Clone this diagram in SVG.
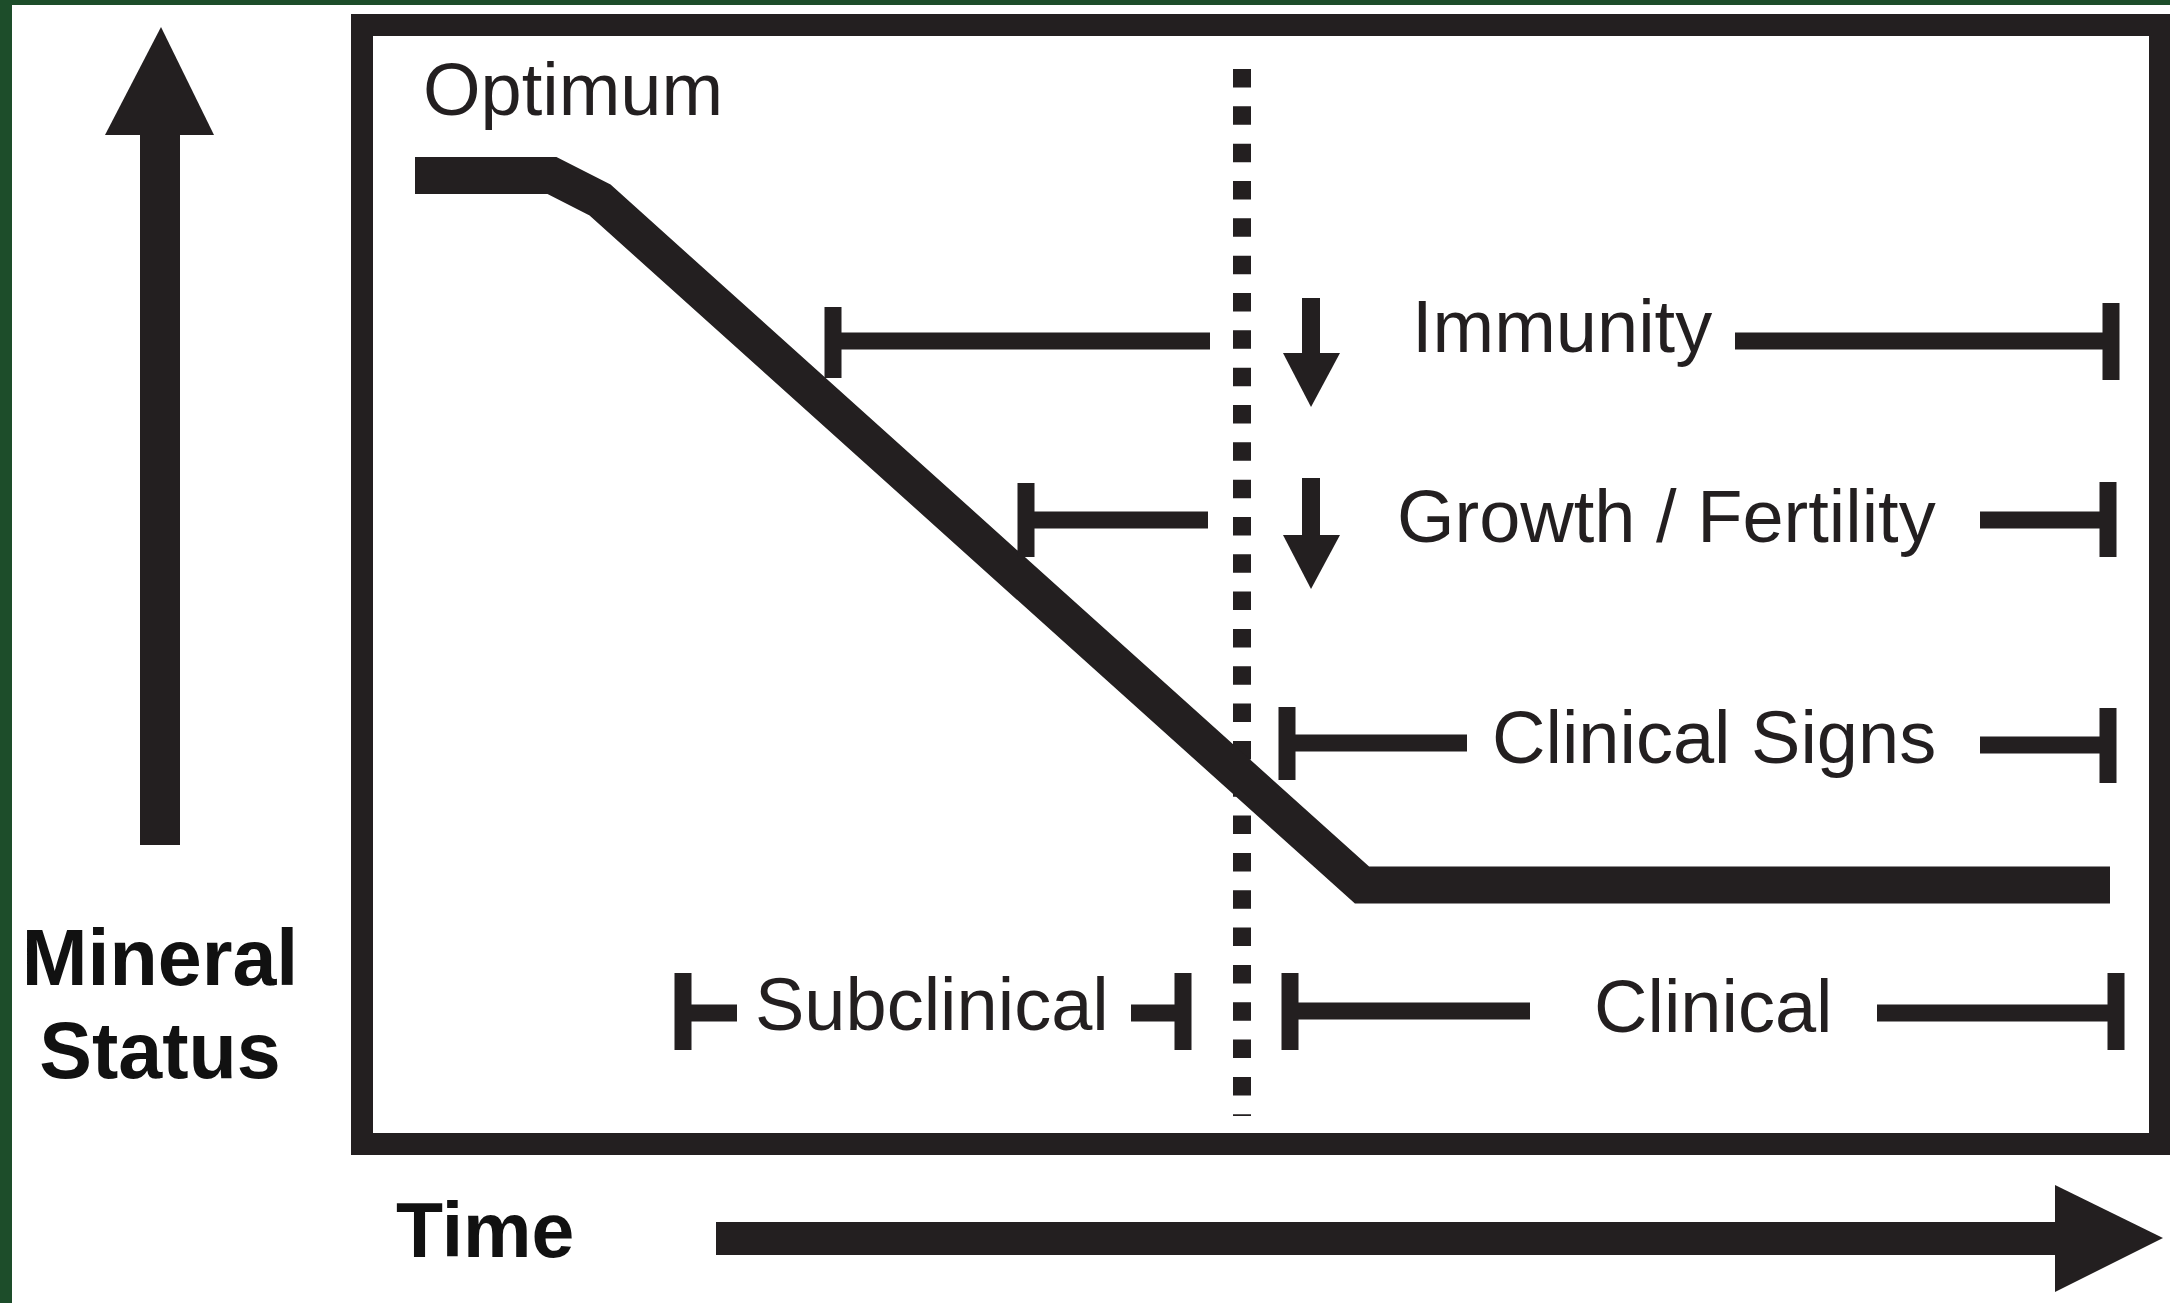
<svg xmlns="http://www.w3.org/2000/svg" width="2170" height="1303" viewBox="0 0 2170 1303">
<style>
.ln{stroke:#231f20;fill:none;stroke-linecap:butt}
.br{stroke:#231f20;stroke-width:17;fill:none}
.fill{fill:#231f20}
.lbl{font-family:"Liberation Sans",Arial,sans-serif;font-size:74px;fill:#231f20}
.axis{font-family:"Liberation Sans",Arial,sans-serif;font-size:79px;font-weight:bold;fill:#111}
</style>
<rect x="0" y="0" width="2170" height="1303" fill="#1d4d2a"/>
<rect x="12" y="5" width="2158" height="1298" fill="#ffffff"/>

<g id="y-axis">
  <rect x="140" y="130" width="40" height="715" class="fill"/>
  <polygon points="105,135 161,27 214,135" class="fill"/>
  <text class="axis" x="160" y="985" text-anchor="middle">Mineral</text>
  <text class="axis" x="160" y="1078" text-anchor="middle">Status</text>
</g>

<g id="x-axis">
  <rect x="716" y="1222" width="1345" height="33" class="fill"/>
  <polygon points="2055,1185 2163,1238 2055,1292" class="fill"/>
  <text class="axis" x="396" y="1257" style="font-size:77px">Time</text>
</g>

<g id="frame">
  <rect x="362" y="25" width="1798" height="1119" class="ln" stroke-width="22"/>
</g>

<g id="threshold">
  <line x1="1242" y1="69" x2="1242" y2="1116" class="ln" stroke-width="18" stroke-dasharray="18.5 18.83"/>
</g>

<g id="curve">
  <path d="M415,175.5 L552,175.5 L600,200 L1362,885 L2110,885" class="ln" stroke-width="37" stroke-linejoin="miter"/>
  <text class="lbl" x="423" y="115">Optimum</text>
</g>

<g id="connectors">
  <!-- Immunity -->
  <path class="br" d="M833,307 V378 M833,341 H1210"/>
  <path class="br" d="M1735,341 H2111 M2111,303 V380"/>
  <!-- Growth / Fertility -->
  <path class="br" d="M1026,483 V557 M1026,520 H1208"/>
  <path class="br" d="M1980,520 H2108 M2108,482 V557"/>
  <!-- Clinical Signs -->
  <path class="br" d="M1287,707 V780 M1287,743 H1467"/>
  <path class="br" d="M1980,745 H2108 M2108,708 V783"/>
  <!-- Subclinical -->
  <path class="br" d="M683,973 V1050 M683,1013 H737"/>
  <path class="br" d="M1131,1013 H1183 M1183,973 V1050"/>
  <!-- Clinical -->
  <path class="br" d="M1290,973 V1050 M1290,1011 H1530"/>
  <path class="br" d="M1877,1013 H2116 M2116,973 V1050"/>
  <!-- down arrows -->
  <rect x="1302" y="298" width="18" height="58" class="fill"/>
  <polygon points="1283,353 1340,353 1311,407" class="fill"/>
  <rect x="1302" y="478" width="18" height="60" class="fill"/>
  <polygon points="1283,535 1340,535 1311,589" class="fill"/>
</g>

<g id="immunity"><text class="lbl" x="1412" y="352">Immunity</text></g>
<g id="growth"><text class="lbl" x="1397" y="542">Growth / Fertility</text></g>
<g id="clinical-signs"><text class="lbl" x="1492" y="763">Clinical Signs</text></g>
<g id="subclinical"><text class="lbl" x="755" y="1030">Subclinical</text></g>
<g id="clinical"><text class="lbl" x="1594" y="1032">Clinical</text></g>
</svg>
